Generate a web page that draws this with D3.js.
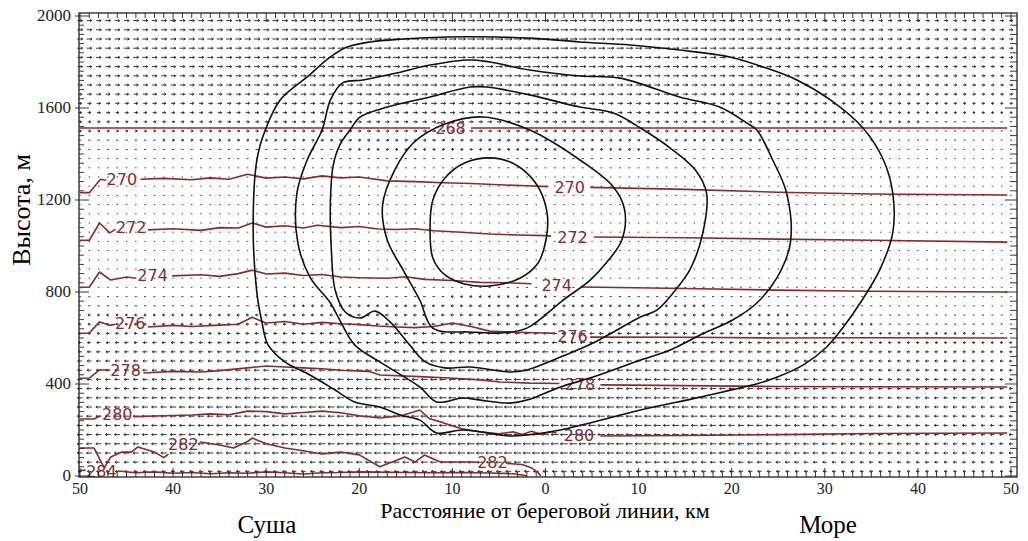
<!DOCTYPE html>
<html>
<head>
<meta charset="utf-8">
<script src="https://cdnjs.cloudflare.com/ajax/libs/d3/7.8.5/d3.min.js"></script>
<style>
  body { margin: 0; background: #fff; }
  svg text { font-family: "Liberation Serif", "DejaVu Serif", serif; }
</style>
</head>
<body>
<svg id="chart" width="1028" height="541"></svg>
<script>
// ---- axes ticks ----
const xTicks = [-50, -40, -30, -20, -10, 0, 10, 20, 30, 40, 50];
const yTicks = [0, 400, 800, 1200, 1600, 2000];

// ---- wind field (u, m/s, + = towards the sea) ----
const windHeights = [0, 100, 300, 500, 700, 900, 1100, 1300, 1500, 1700, 1900, 2000];
const windU = [-1.6, -2.6, -2.6, -2.1, -1.2, -0.4, 0.1, 0.5, 1.3, 2.2, 2.6, 2.4];
const windKm = [-50, -40, -30, -20, -10, 0, 10, 20, 30, 40, 50];
const windGain = [0.8, 0.85, 0.9, 1.0, 1.1, 1.1, 1.0, 0.9, 0.75, 0.65, 0.6];

// ---- black closed contours [km, m] ----
const contour1 = [[-6.0,1383],[-3.8,1365],[-2.0,1317],[-0.6,1243],[0.2,1135],[0.05,1026],[-0.8,926],[-2.7,861],[-6.0,826],[-8.7,835],[-10.8,874],[-12.1,948],[-12.4,1070],[-12.1,1200],[-10.8,1296],[-8.7,1361]];
const contour2 = [[-6.7,1561],[-1.7,1504],[3.7,1374],[7.3,1257],[8.5,1157],[8.2,1026],[6.6,930],[4.8,852],[1.9,765],[-2.0,643],[-4.9,622],[-8.1,626],[-12.1,643],[-13.5,765],[-15.3,896],[-17.0,1026],[-17.5,1178],[-16.2,1330],[-14.2,1448],[-10.8,1530]];
const contour3 = [[-19.9,1561],[-21.0,1504],[-22.1,1439],[-22.8,1352],[-23.1,1200],[-23.0,983],[-22.6,809],[-21.5,713],[-19.9,687],[-18.3,717],[-16.7,670],[-14.6,570],[-12.9,496],[-10.8,470],[-8.1,474],[-3.8,452],[-2.0,461],[1.6,517],[5.1,578],[10.2,691],[12.0,722],[13.7,796],[15.5,896],[16.9,1057],[17.3,1230],[16.1,1330],[13.4,1426],[10.2,1513],[7.3,1578],[3.7,1604],[-1.7,1657],[-6.3,1691],[-8.1,1691],[-12.4,1648],[-17.0,1604]];
const contour4 = [[-24.0,1504],[-23.1,1635],[-21.8,1709],[-19.6,1722],[-16.0,1752],[-12.4,1787],[-8.1,1809],[-6.0,1800],[-1.7,1765],[3.7,1739],[8.0,1730],[14.4,1648],[18.7,1604],[21.6,1535],[22.7,1504],[24.4,1374],[25.9,1230],[26.3,1013],[24.9,865],[22.7,752],[20.1,678],[16.6,613],[13.4,548],[10.2,504],[5.1,430],[1.6,387],[-2.0,330],[-3.8,317],[-7.0,330],[-8.9,339],[-11.7,322],[-13.5,387],[-17.8,496],[-20.5,570],[-22.1,678],[-23.1,752],[-25.3,865],[-26.6,1013],[-26.7,1230],[-25.6,1374]];
const contour5 = [[-30.5,678],[-29.8,570],[-28.0,496],[-25.3,439],[-22.6,374],[-20.5,322],[-17.8,300],[-15.6,265],[-13.5,243],[-11.7,187],[-8.9,200],[-3.8,174],[-2.0,178],[1.6,200],[10.2,287],[16.6,343],[23.0,404],[24.9,430],[27.7,483],[30.2,561],[32.0,648],[33.8,752],[35.9,896],[37.3,1057],[37.3,1230],[36.3,1374],[34.1,1513],[30.6,1635],[27.0,1722],[23.4,1778],[19.8,1822],[14.4,1852],[9.1,1874],[3.7,1887],[-1.7,1904],[-5.2,1909],[-10.6,1909],[-15.3,1900],[-18.9,1887],[-21.3,1865],[-23.1,1822],[-25.6,1735],[-28.5,1635],[-30.1,1504],[-31.0,1374],[-31.4,1083],[-31.0,796]];
const contours = [contour1, contour2, contour3, contour4, contour5];

// ---- isotherms (K), each one split by its labels [km, m] ----
const iso268 = [
  [[-50,1513],[-12.4,1513]],
  [[-8.0,1513],[49.6,1513]]
];
const iso270 = [
  [[-50,1232],[-49,1232],[-47.8,1290],[-47.2,1286]],
  [[-43.5,1290],[-41,1294],[-38,1288],[-36,1296],[-34,1290],[-32,1312],[-30,1295],[-28,1300],[-26,1292],[-24,1305],[-22,1296],[-20,1300],[-17,1283],[-14,1280],[-11,1275],[-8,1272],[-5,1266],[-2,1262],[0.3,1258]],
  [[4.8,1255],[15,1246],[25,1234],[35,1226],[49.6,1222]]
];
const iso272 = [
  [[-50,1025],[-49,1025],[-47.9,1100],[-46.8,1057],[-46.2,1072]],
  [[-42.7,1070],[-40,1075],[-37,1068],[-35,1080],[-33,1078],[-31.5,1100],[-30,1082],[-28,1088],[-26,1078],[-24.5,1090],[-22,1080],[-20,1085],[-18,1074],[-16,1072],[-14,1075],[-12,1066],[-9,1060],[-6,1052],[-3,1048],[0,1045],[0.6,1043]],
  [[5.2,1039],[15,1036],[25,1030],[35,1025],[49.6,1017]]
];
const iso274 = [
  [[-50,820],[-49,822],[-47.9,887],[-46.7,852],[-45,865],[-44,860]],
  [[-40.1,870],[-37,875],[-35,868],[-33,880],[-31.5,895],[-30,878],[-28,882],[-26,872],[-24,876],[-22,865],[-20,862],[-17,860],[-15,866],[-13,855],[-10,850],[-7,842],[-4,840],[-1.5,836]],
  [[3.8,822],[15,815],[25,808],[35,803],[49.6,800]]
];
const iso276 = [
  [[-50,620],[-49,622],[-47.9,670],[-46.8,655],[-46.2,660]],
  [[-42.7,648],[-40,655],[-38,650],[-35,656],[-33,660],[-31.5,690],[-30,665],[-28,672],[-26,660],[-24,668],[-22,662],[-20,658],[-18,652],[-16,648],[-14,645],[-12,650],[-10,665],[-8,650],[-6,630],[-3,625],[0,622],[1,620]],
  [[4.8,604],[15,603],[25,600],[35,601],[49.6,600]]
];
const iso278 = [
  [[-50,425],[-49,426],[-47.9,461],[-46.8,461]],
  [[-43.2,448],[-40,455],[-37,452],[-35,458],[-32,470],[-30,478],[-28,474],[-26,470],[-24,466],[-22,460],[-19,455],[-17.8,439],[-13.5,432],[-10.3,426],[-7,418],[-4.9,409],[-1.7,404],[1.5,402]],
  [[5.9,396],[15,393],[25,389],[35,388],[49.6,387]]
];
const iso280 = [
  [[-50,248],[-48.5,248],[-47.8,262]],
  [[-44.1,258],[-41,262],[-38,265],[-36,270],[-34,266],[-32,282],[-30,280],[-28,270],[-26,276],[-24,282],[-22,275],[-20,262],[-17.8,252],[-15.5,262],[-13.5,287],[-12.5,250],[-11,232],[-9,205],[-7,192],[-5,184],[-3.5,192],[-2.5,180],[-1.5,195],[-0.5,182],[0.6,192],[1.2,186]],
  [[5.9,174],[15,176],[25,180],[35,185],[49.6,187]]
];
const iso282 = [
  [[-50,122],[-48.5,122],[-47.4,35],[-46.7,83],[-45.5,104],[-44.5,104],[-43.8,126],[-42,104],[-41,80],[-40.5,95]],
  [[-37.1,148],[-35,135],[-33.5,122],[-32,150],[-31.5,165],[-30,140],[-28,122],[-26,110],[-24,96],[-22,104],[-20,92],[-17.8,40],[-15.1,83],[-14,61],[-13,91],[-11.3,61],[-8.1,61],[-7.3,60]],
  [[-4.2,55],[-2.5,50],[-1.5,35],[-0.8,15],[-0.5,0]]
];
const iso284 = [
  [[-50,25],[-49.4,25]],
  [[-45.9,22],[-44,14],[-42,18],[-40,12],[-38,15],[-36,10],[-34,14],[-32,12],[-30,18],[-28,14],[-26,9],[-24,14],[-22,15],[-20,18],[-18,17],[-15,15],[-12,14],[-9,15],[-6,13],[-3.5,10],[-2.5,4],[-2,0]]
];
const isotherms = [iso268, iso270, iso272, iso274, iso276, iso278, iso280, iso282, iso284];

// label text, km, m
const isoLabels = [
  ["268", -10.2, 1513],
  ["270", -45.5, 1290], ["270", 2.6, 1255],
  ["272", -44.5, 1082], ["272", 2.9, 1040],
  ["274", -42.2, 872], ["274", 1.2, 832],
  ["276", -44.6, 664], ["276", 2.9, 608],
  ["278", -45.1, 460], ["278", 3.7, 400],
  ["280", -46.0, 270], ["280", 3.6, 180],
  ["282", -38.9, 138], ["282", -5.7, 62],
  ["284", -47.7, 22]
];

// ---- setup ----
const svg = d3.select("#chart");
const FRAME = { L: 79, R: 1017, T: 13, B: 477 };

const x = d3.scaleLinear().domain([-50, 50]).range([80, 1011]);
const y = d3.scaleLinear().domain([0, 2000]).range([476, 16]);

const uAt = d3.scaleLinear().domain(windHeights).range(windU).clamp(true);
const gainAt = d3.scaleLinear().domain(windKm).range(windGain).clamp(true);

//** WIND ARROWS *****************************************
const cols = d3.range(-50, 50.01, 1);
const rows = d3.range(20, 2000, 40);
const cells = [];
rows.forEach(h => cols.forEach(k => cells.push([k, h])));

const arrowPath = d => {
  const cx = x(d[0]), cy = y(d[1]);
  let L = uAt(d[1]) * gainAt(d[0]) * 2.6;
  if (Math.abs(L) < 1.4) {
    return "M" + (cx - 0.7) + "," + cy + "h1.4";
  }
  const x0 = cx - L / 2, x1 = cx + L / 2;
  const s = L > 0 ? 1 : -1;
  let p = "M" + x0.toFixed(1) + "," + cy + "L" + x1.toFixed(1) + "," + cy;
  if (Math.abs(L) > 2.5) {
    p += "M" + (x1 - s * 1.8).toFixed(1) + "," + (cy - 1.2) + "L" + x1.toFixed(1) + "," + cy +
         "L" + (x1 - s * 1.8).toFixed(1) + "," + (cy + 1.2);
  }
  return p;
};

svg.append("g")
  .attr("class", "wind")
  .selectAll("path")
  .data(cells)
  .enter()
  .append("path")
  .attr("d", arrowPath)
  .attr("fill", "none")
  .attr("stroke", "#222")
  .attr("stroke-width", 0.9);

//** ISOTHERMS *****************************************
const line = d3.line().x(d => x(d[0])).y(d => y(d[1]));
const isoColor = "#8c2a2a";

const isoG = svg.append("g").attr("class", "isotherms");
isotherms.forEach(segs => {
  isoG.selectAll(null)
    .data(segs)
    .enter()
    .append("path")
    .attr("d", line)
    .attr("fill", "none")
    .attr("stroke", isoColor)
    .attr("stroke-width", 1.6)
    .attr("stroke-linejoin", "round");
});

isoG.selectAll("text")
  .data(isoLabels)
  .enter()
  .append("text")
  .attr("x", d => x(d[1]))
  .attr("y", d => y(d[2]) + 6)
  .attr("text-anchor", "middle")
  .attr("fill", isoColor)
  .style("font-family", "'DejaVu Sans', sans-serif")
  .style("font-size", "16px")
  .text(d => d[0]);

//** CONTOURS *****************************************
const closed = d3.line()
  .x(d => x(d[0]))
  .y(d => y(d[1]))
  .curve(d3.curveCatmullRomClosed.alpha(0.5));

svg.append("g")
  .attr("class", "contours")
  .selectAll("path")
  .data(contours)
  .enter()
  .append("path")
  .attr("d", closed)
  .attr("fill", "none")
  .attr("stroke", "#111")
  .attr("stroke-width", 1.6);

//** FRAME + TICKS *****************************************
const axisG = svg.append("g").attr("stroke", "#222");
axisG.append("rect")
  .attr("x", FRAME.L).attr("y", FRAME.T)
  .attr("width", FRAME.R - FRAME.L).attr("height", FRAME.B - FRAME.T)
  .attr("fill", "none").attr("stroke-width", 1.3);

const minorX = d3.range(-50, 50.01, 1);
axisG.selectAll(".tt")
  .data(minorX).enter().append("line")
  .attr("x1", d => x(d)).attr("x2", d => x(d))
  .attr("y1", FRAME.T).attr("y2", d => FRAME.T + (d % 10 === 0 ? 9 : 5))
  .attr("stroke-width", 0.9);
axisG.selectAll(".tb")
  .data(minorX).enter().append("line")
  .attr("x1", d => x(d)).attr("x2", d => x(d))
  .attr("y1", FRAME.B).attr("y2", d => FRAME.B - (d % 10 === 0 ? 9 : 5))
  .attr("stroke-width", 0.9);

const minorY = d3.range(0, 2000.1, 40);
axisG.selectAll(".tl")
  .data(minorY).enter().append("line")
  .attr("x1", d => d % 400 === 0 ? FRAME.L - 4 : FRAME.L)
  .attr("x2", d => FRAME.L + (d % 400 === 0 ? 10 : 5))
  .attr("y1", d => y(d)).attr("y2", d => y(d))
  .attr("stroke-width", 0.9);
axisG.selectAll(".tr")
  .data(minorY).enter().append("line")
  .attr("x1", FRAME.R)
  .attr("x2", d => FRAME.R - (d % 400 === 0 ? 12 : 7))
  .attr("y1", d => y(d)).attr("y2", d => y(d))
  .attr("stroke-width", 0.9);

//** LABELS *****************************************
svg.append("g").selectAll("text")
  .data(xTicks).enter().append("text")
  .attr("x", d => x(d))
  .attr("y", 494)
  .attr("text-anchor", "middle")
  .style("font-size", "16px")
  .attr("fill", "#222")
  .text(d => Math.abs(d));

svg.append("g").selectAll("text")
  .data(yTicks).enter().append("text")
  .attr("x", 71)
  .attr("y", d => y(d) + 5)
  .attr("text-anchor", "end")
  .style("font-size", "17px")
  .attr("fill", "#222")
  .text(d => d);

svg.append("text")
  .attr("x", 545).attr("y", 518)
  .attr("text-anchor", "middle")
  .style("font-size", "22px")
  .text("Расстояние от береговой линии, км");

svg.append("text")
  .attr("x", 267).attr("y", 533)
  .attr("text-anchor", "middle")
  .style("font-size", "25px")
  .text("Суша");

svg.append("text")
  .attr("x", 828).attr("y", 533)
  .attr("text-anchor", "middle")
  .style("font-size", "25px")
  .text("Море");

svg.append("text")
  .attr("transform", "translate(30,210) rotate(-90)")
  .attr("text-anchor", "middle")
  .style("font-size", "26px")
  .text("Высота, м");
</script>
</body>
</html>
